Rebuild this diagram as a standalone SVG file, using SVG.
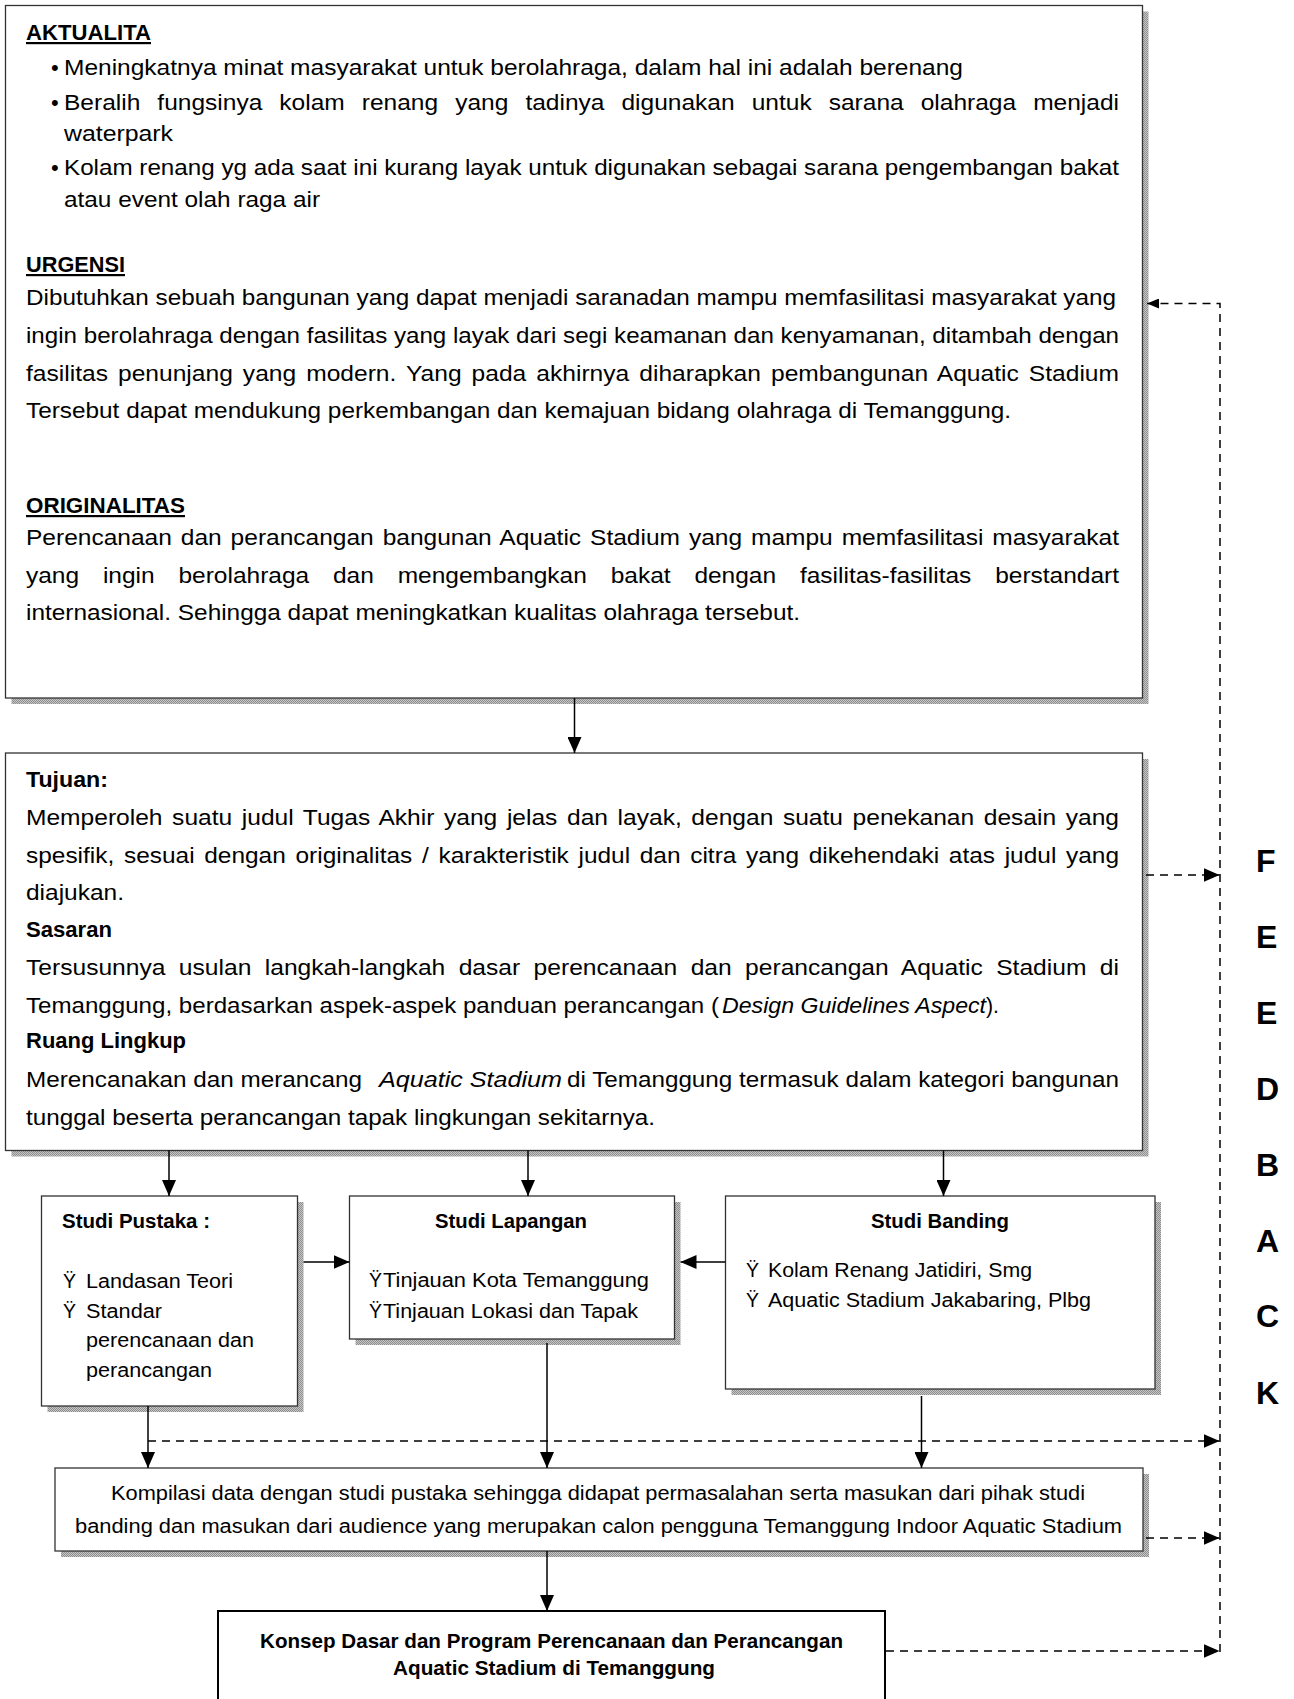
<svg xmlns="http://www.w3.org/2000/svg" width="1294" height="1699" viewBox="0 0 1294 1699">
<defs>
<pattern id="shade" width="2" height="2" patternUnits="userSpaceOnUse"><rect width="2" height="2" fill="#c6c6c6"/><rect width="1" height="1" fill="#8e8e8e"/><rect x="1" y="1" width="1" height="1" fill="#8e8e8e"/></pattern>
<marker id="ah" markerUnits="userSpaceOnUse" markerWidth="16" markerHeight="14" refX="16" refY="7" orient="auto"><path d="M0,0 L16,7 L0,14 z" fill="#000"/></marker>
<marker id="ahs" markerUnits="userSpaceOnUse" markerWidth="12" markerHeight="10" refX="12" refY="5" orient="auto"><path d="M0,0 L12,5 L0,10 z" fill="#000"/></marker>
</defs>
<style>
.box{fill:#fff;stroke:#333;stroke-width:1.3}
.kbox{fill:#fff;stroke:#000;stroke-width:2}
.sh{fill:url(#shade)}
text{font-family:"Liberation Sans",Arial,sans-serif;fill:#000}
.t{font-size:22px}
.b{font-size:22px;font-weight:bold}
.u{text-decoration:underline}
.i{font-style:italic}
.s{font-size:19.5px}
.sb{font-size:20px;font-weight:bold}
.kb{font-size:20.5px;font-weight:bold}
.fb{font-size:32px;font-weight:bold}
.c{stroke:#000;stroke-width:1.5;fill:none}
.d{stroke:#000;stroke-width:1.5;stroke-dasharray:8 6;fill:none}
</style>

<g id="node-aktualita">
<rect class="sh" x="11.5" y="11.5" width="1137" height="692.5"/>
<rect class="box" x="5.5" y="5.5" width="1137" height="692.5"/>
<text class="b u" x="26" y="40" textLength="125" lengthAdjust="spacingAndGlyphs">AKTUALITA</text>
<text class="t" x="51" y="75">•</text>
<text class="t" x="64" y="75" textLength="899" lengthAdjust="spacingAndGlyphs">Meningkatnya minat masyarakat untuk berolahraga, dalam hal ini adalah berenang</text>
<text class="t" x="51" y="110">•</text>
<text class="t" x="64" y="110" word-spacing="9.2" textLength="1055" lengthAdjust="spacingAndGlyphs">Beralih fungsinya kolam renang yang tadinya digunakan untuk sarana olahraga menjadi</text>
<text class="t" x="64" y="141" textLength="109" lengthAdjust="spacingAndGlyphs">waterpark</text>
<text class="t" x="51" y="175">•</text>
<text class="t" x="64" y="175" textLength="1055" lengthAdjust="spacingAndGlyphs">Kolam renang yg ada saat ini kurang layak untuk digunakan sebagai sarana pengembangan bakat</text>
<text class="t" x="64" y="207" textLength="256" lengthAdjust="spacingAndGlyphs">atau event olah raga air</text>
<text class="b u" x="26" y="272" textLength="99" lengthAdjust="spacingAndGlyphs">URGENSI</text>
<text class="t" x="26" y="305" textLength="1090" lengthAdjust="spacingAndGlyphs">Dibutuhkan sebuah bangunan yang dapat menjadi saranadan mampu memfasilitasi masyarakat yang</text>
<text class="t" x="26" y="343" textLength="1093" lengthAdjust="spacingAndGlyphs">ingin berolahraga dengan fasilitas yang layak dari segi keamanan dan kenyamanan, ditambah dengan</text>
<text class="t" x="26" y="381" word-spacing="2.9" textLength="1093" lengthAdjust="spacingAndGlyphs">fasilitas penunjang yang modern. Yang pada akhirnya diharapkan pembangunan Aquatic Stadium</text>
<text class="t" x="26" y="418" textLength="985" lengthAdjust="spacingAndGlyphs">Tersebut dapat mendukung perkembangan dan kemajuan bidang olahraga di Temanggung.</text>
<text class="b u" x="26" y="513" textLength="159" lengthAdjust="spacingAndGlyphs">ORIGINALITAS</text>
<text class="t" x="26" y="545" word-spacing="1.9" textLength="1093" lengthAdjust="spacingAndGlyphs">Perencanaan dan perancangan bangunan Aquatic Stadium yang mampu memfasilitasi masyarakat</text>
<text class="t" x="26" y="583" word-spacing="15.3" textLength="1093" lengthAdjust="spacingAndGlyphs">yang ingin berolahraga dan mengembangkan bakat dengan fasilitas-fasilitas berstandart</text>
<text class="t" x="26" y="620" textLength="774" lengthAdjust="spacingAndGlyphs">internasional. Sehingga dapat meningkatkan kualitas olahraga tersebut.</text>
</g>

<g id="node-tujuan">
<rect class="sh" x="11.5" y="759" width="1137" height="397.5"/>
<rect class="box" x="5.5" y="753" width="1137" height="397.5"/>
<text class="b" x="26" y="787" textLength="82" lengthAdjust="spacingAndGlyphs">Tujuan:</text>
<text class="t" x="26" y="825" word-spacing="2.5" textLength="1093" lengthAdjust="spacingAndGlyphs">Memperoleh suatu judul Tugas Akhir yang jelas dan layak, dengan suatu penekanan desain yang</text>
<text class="t" x="26" y="863" word-spacing="2.6" textLength="1093" lengthAdjust="spacingAndGlyphs">spesifik, sesuai dengan originalitas / karakteristik judul dan citra yang dikehendaki atas judul yang</text>
<text class="t" x="26" y="900" textLength="98" lengthAdjust="spacingAndGlyphs">diajukan.</text>
<text class="b" x="26" y="937" textLength="86" lengthAdjust="spacingAndGlyphs">Sasaran</text>
<text class="t" x="26" y="975" word-spacing="5.9" textLength="1093" lengthAdjust="spacingAndGlyphs">Tersusunnya usulan langkah-langkah dasar perencanaan dan perancangan Aquatic Stadium di</text>
<text class="t" x="26" y="1013" textLength="693" lengthAdjust="spacingAndGlyphs">Temanggung, berdasarkan aspek-aspek panduan perancangan (</text>
<text class="t i" x="722" y="1013" textLength="264" lengthAdjust="spacingAndGlyphs">Design Guidelines Aspect</text>
<text class="t" x="986" y="1013" textLength="13" lengthAdjust="spacingAndGlyphs">).</text>
<text class="b" x="26" y="1048" textLength="160" lengthAdjust="spacingAndGlyphs">Ruang Lingkup</text>
<text class="t" x="26" y="1087" textLength="336" lengthAdjust="spacingAndGlyphs">Merencanakan dan merancang</text>
<text class="t i" x="379" y="1087" textLength="183" lengthAdjust="spacingAndGlyphs">Aquatic Stadium</text>
<text class="t" x="567" y="1087" textLength="552" lengthAdjust="spacingAndGlyphs">di Temanggung termasuk dalam kategori bangunan</text>
<text class="t" x="26" y="1125" textLength="629" lengthAdjust="spacingAndGlyphs">tunggal beserta perancangan tapak lingkungan sekitarnya.</text>
</g>

<g id="node-studi-pustaka">
<rect class="sh" x="47.5" y="1202" width="256" height="210"/>
<rect class="box" x="41.5" y="1196" width="256" height="210"/>
<text class="sb" x="62" y="1228" textLength="148" lengthAdjust="spacingAndGlyphs">Studi Pustaka :</text>
<text class="s" x="63" y="1288">Ÿ</text>
<text class="s" x="86" y="1288" textLength="147" lengthAdjust="spacingAndGlyphs">Landasan Teori</text>
<text class="s" x="63" y="1318">Ÿ</text>
<text class="s" x="86" y="1318" textLength="76" lengthAdjust="spacingAndGlyphs">Standar</text>
<text class="s" x="86" y="1347" textLength="168" lengthAdjust="spacingAndGlyphs">perencanaan dan</text>
<text class="s" x="86" y="1377" textLength="126" lengthAdjust="spacingAndGlyphs">perancangan</text>
</g>

<g id="node-studi-lapangan">
<rect class="sh" x="355.5" y="1202" width="325" height="143"/>
<rect class="box" x="349.5" y="1196" width="325" height="143"/>
<text class="sb" x="435" y="1228" textLength="152" lengthAdjust="spacingAndGlyphs">Studi Lapangan</text>
<text class="s" x="369" y="1287">Ÿ</text>
<text class="s" x="383" y="1287" textLength="266" lengthAdjust="spacingAndGlyphs">Tinjauan Kota Temanggung</text>
<text class="s" x="369" y="1318">Ÿ</text>
<text class="s" x="383" y="1318" textLength="255" lengthAdjust="spacingAndGlyphs">Tinjauan Lokasi dan Tapak</text>
</g>

<g id="node-studi-banding">
<rect class="sh" x="731.5" y="1202" width="429.5" height="193"/>
<rect class="box" x="725.5" y="1196" width="429.5" height="193"/>
<text class="sb" x="871" y="1228" textLength="138" lengthAdjust="spacingAndGlyphs">Studi Banding</text>
<text class="s" x="746" y="1277">Ÿ</text>
<text class="s" x="768" y="1277" textLength="264" lengthAdjust="spacingAndGlyphs">Kolam Renang Jatidiri, Smg</text>
<text class="s" x="746" y="1307">Ÿ</text>
<text class="s" x="768" y="1307" textLength="323" lengthAdjust="spacingAndGlyphs">Aquatic Stadium Jakabaring, Plbg</text>
</g>

<g id="node-kompilasi">
<rect class="sh" x="61" y="1474" width="1088" height="83"/>
<rect class="box" x="55" y="1468" width="1088" height="83"/>
<text class="s" x="111" y="1500" textLength="974" lengthAdjust="spacingAndGlyphs">Kompilasi data dengan studi pustaka sehingga didapat permasalahan serta masukan dari pihak studi</text>
<text class="s" x="75" y="1533" textLength="1047" lengthAdjust="spacingAndGlyphs">banding dan masukan dari audience yang merupakan calon pengguna Temanggung Indoor Aquatic Stadium</text>
</g>

<g id="node-konsep">
<rect class="kbox" x="218" y="1611" width="667" height="110"/>
<text class="kb" x="260" y="1648" textLength="583" lengthAdjust="spacingAndGlyphs">Konsep Dasar dan Program Perencanaan dan Perancangan</text>
<text class="kb" x="393" y="1675" textLength="322" lengthAdjust="spacingAndGlyphs">Aquatic Stadium di Temanggung</text>
</g>

<g id="feedback-label">
<text class="fb" x="1256" y="872">F</text>
<text class="fb" x="1256" y="948">E</text>
<text class="fb" x="1256" y="1024">E</text>
<text class="fb" x="1256" y="1100">D</text>
<text class="fb" x="1256" y="1176">B</text>
<text class="fb" x="1256" y="1252">A</text>
<text class="fb" x="1256" y="1327">C</text>
<text class="fb" x="1256" y="1404">K</text>
</g>

<g id="connectors">
<line class="c" x1="574.5" y1="698" x2="574.5" y2="753" marker-end="url(#ah)"/>
<line class="c" x1="169" y1="1150.5" x2="169" y2="1196" marker-end="url(#ah)"/>
<line class="c" x1="528" y1="1150.5" x2="528" y2="1196" marker-end="url(#ah)"/>
<line class="c" x1="943.5" y1="1150.5" x2="943.5" y2="1196" marker-end="url(#ah)"/>
<line class="c" x1="303.5" y1="1262" x2="349.5" y2="1262" marker-end="url(#ah)"/>
<line class="c" x1="725.5" y1="1262" x2="680.5" y2="1262" marker-end="url(#ah)"/>
<line class="c" x1="148" y1="1406" x2="148" y2="1468" marker-end="url(#ah)"/>
<line class="c" x1="547" y1="1343" x2="547" y2="1468" marker-end="url(#ah)"/>
<line class="c" x1="921.5" y1="1396" x2="921.5" y2="1468" marker-end="url(#ah)"/>
<line class="c" x1="547" y1="1551" x2="547" y2="1611" marker-end="url(#ah)"/>
<line class="d" x1="148" y1="1441" x2="1219.5" y2="1441" marker-end="url(#ah)"/>
<line class="d" x1="1146" y1="875" x2="1219.5" y2="875" marker-end="url(#ah)"/>
<line class="d" x1="1146" y1="1538" x2="1219.5" y2="1538" marker-end="url(#ah)"/>
<line class="d" x1="886" y1="1651" x2="1219.5" y2="1651" marker-end="url(#ah)"/>
<path class="d" d="M1220,1652 L1220,303.5 L1147,303.5" marker-end="url(#ahs)"/>
</g>
</svg>
